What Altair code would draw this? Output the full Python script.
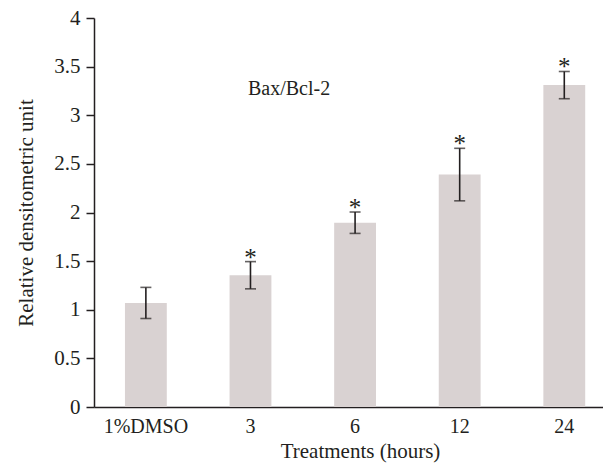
import altair as alt
import pandas as pd

categories = ["1%DMSO", "3", "6", "12", "24"]
means = [1.07, 1.355, 1.895, 2.39, 3.31]
errors = [0.16, 0.14, 0.11, 0.27, 0.14]
stars = ["", "*", "*", "*", "*"]
y_ticks = [0, 0.5, 1, 1.5, 2, 2.5, 3, 3.5, 4]

df = pd.DataFrame({
    "cat": categories,
    "mean": means,
    "err": errors,
    "star": stars,
})
df["lo"] = df["mean"] - df["err"]
df["hi"] = df["mean"] + df["err"]

FONT = "Liberation Serif"
TXT = "#231f20"

x = alt.X(
    "cat:N",
    sort=categories,
    scale=alt.Scale(paddingInner=0.6, paddingOuter=0.233, align=0.635),
    axis=alt.Axis(
        title="Treatments (hours)",
        labelAngle=0,
        ticks=False,
        labelPadding=9,
        labelFontSize=20,
        titleFontSize=21,
        titleFontWeight="normal",
        titleX=266,
        titleY=50,
        titleAlign="center",
        titleBaseline="alphabetic",
        domainColor=TXT,
        domainWidth=1.5,
        labelColor=TXT,
        titleColor=TXT,
    ),
)

y_scale = alt.Scale(domain=[0, 4], nice=False, zero=True)

bars = alt.Chart(df).mark_bar(color="#d9d2d2").encode(
    x=x,
    y=alt.Y(
        "mean:Q",
        scale=y_scale,
        axis=alt.Axis(
            title="Relative densitometric unit",
            values=y_ticks,
            format="~g",
            grid=False,
            tickSize=8,
            tickWidth=1.5,
            tickColor=TXT,
            labelPadding=6,
            labelFontSize=21,
            titleFontSize=21,
            titleFontWeight="normal",
            titleX=-62,
            titleY=194.5,
            titleAlign="center",
            titleBaseline="alphabetic",
            domainColor=TXT,
            domainWidth=1.5,
            labelColor=TXT,
            titleColor=TXT,
        ),
    ),
)

rules = alt.Chart(df).mark_rule(color=TXT, strokeWidth=1.6).encode(
    x=alt.X("cat:N", sort=categories),
    y=alt.Y("lo:Q", scale=y_scale),
    y2="hi:Q",
)

caps_hi = alt.Chart(df).mark_tick(color=TXT, size=11, thickness=1.6).encode(
    x=alt.X("cat:N", sort=categories),
    y=alt.Y("hi:Q", scale=y_scale),
)
caps_lo = alt.Chart(df).mark_tick(color=TXT, size=11, thickness=1.6).encode(
    x=alt.X("cat:N", sort=categories),
    y=alt.Y("lo:Q", scale=y_scale),
)

star_text = alt.Chart(df).mark_text(
    font=FONT, fontSize=25, color=TXT, baseline="alphabetic", dy=4
).encode(
    x=alt.X("cat:N", sort=categories),
    y=alt.Y("hi:Q", scale=y_scale),
    text="star:N",
)

chart = alt.layer(bars, rules, caps_hi, caps_lo, star_text).properties(
    width=509,
    height=389,
    autosize=alt.AutoSizeParams(type="none"),
    padding={"left": 94, "top": 18, "right": 0, "bottom": 61},
    title=alt.TitleParams(
        text="Bax/Bcl-2",
        anchor="start",
        frame="group",
        orient="top",
        baseline="alphabetic",
        offset=0,
        dx=154,
        dy=108,
        fontSize=20,
        fontWeight="normal",
        font=FONT,
        color=TXT,
    ),
).configure(font=FONT).configure_view(stroke=None).configure_axis(
    labelFont=FONT, titleFont=FONT
)

chart.save("out.html", embed_options={"renderer": "svg", "actions": False})
